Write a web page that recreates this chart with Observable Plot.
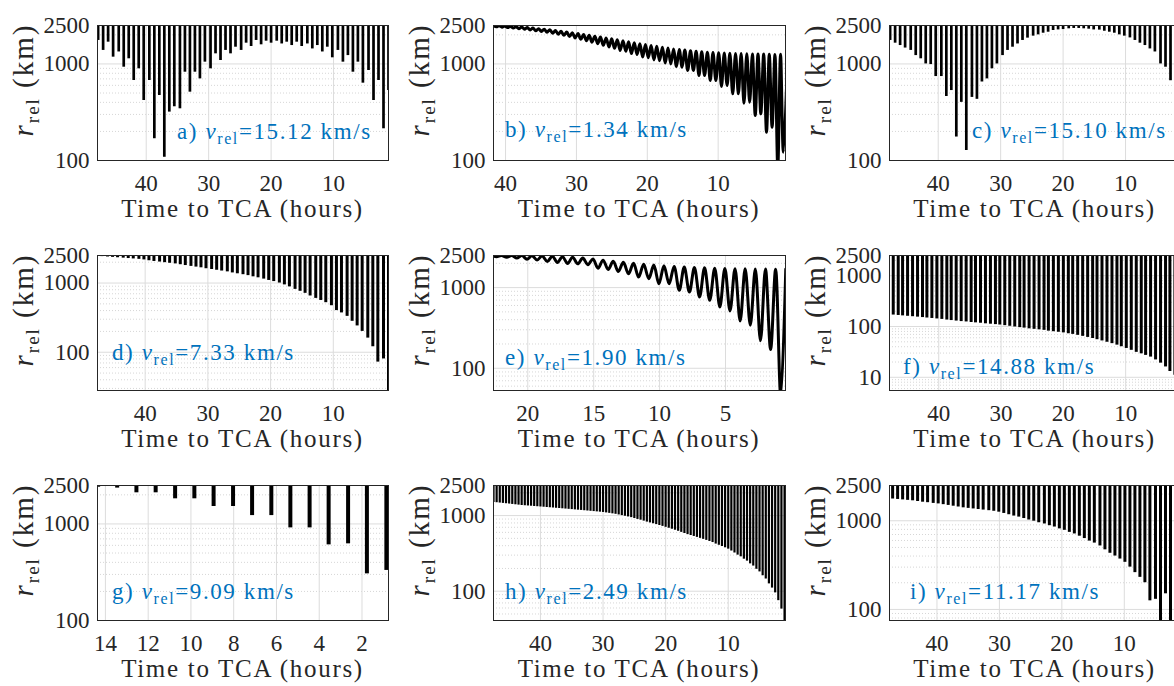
<!DOCTYPE html>
<html><head><meta charset="utf-8">
<script src="https://cdn.jsdelivr.net/npm/d3@7"></script>
<script src="https://cdn.jsdelivr.net/npm/@observablehq/plot@0.6"></script>
<style>
html,body{margin:0;padding:0;background:#fff;overflow:hidden;width:1174px;height:686px;}
#root{position:relative;width:1174px;height:686px;overflow:hidden;}
.panel{position:absolute;}
.panel svg{max-width:none !important;display:block;}
</style></head><body><div id="root"></div>
<script>
// ---------- tick labels ----------
const hourTicks = [40, 30, 20, 10];
const hourTicksE = [20, 15, 10, 5];
const hourTicksG = [14, 12, 10, 8, 6, 4, 2];
const rTicks = [100, 1000, 2500];
const rTicksF = [10, 100, 1000, 2500];

// ---------- a) spikes (time to TCA in hours, minimum r_rel in km) ----------
const timesA = [47.7,46.9,46.1,45.3,44.4,43.6,42.8,42.0,41.2,40.4,39.5,38.7,37.9,37.1,36.3,35.5,34.6,33.8,33.0,32.2,31.4,30.6,29.7,28.9,28.1,27.3,26.5,25.7,24.8,24.0,23.2,22.4,21.6,20.8,20.0,19.1,18.3,17.5,16.7,15.9,15.1,14.2,13.4,12.6,11.8,11.0,10.2,9.3,8.5,7.7,6.9,6.1,5.3,4.4,3.6,2.8,2.0,1.2];
const minA = [1750,1380,1680,1175,1330,925,1130,674,890,418,674,168,471,108,317,360,343,821,510,821,700,1043,890,1272,1085,1380,1272,1490,1380,1640,1515,1750,1577,1720,1640,1720,1610,1680,1550,1680,1515,1610,1430,1550,1330,1490,1157,1380,1043,1220,821,1043,632,855,418,674,213,530];

// ---------- b) oscillation extrema ----------
const troughTB = [0.80,1.59,2.39,3.18,3.98,4.77,5.56,6.36,7.15,7.95,8.74,9.53,10.33,11.12,11.92,12.71,13.50,14.30,15.09,15.89,16.68,17.47,18.27,19.06,19.86,20.65,21.44,22.24,23.03,23.83,24.62,25.41,26.21,27.00,27.80,28.59,29.38,30.18,30.97,31.77,32.56,33.35,34.15,34.94,35.74,36.53,37.32,38.12,38.91,39.71,40.50,41.29];
const troughRB = [122,85,221,196,304,292,401,392,490,490,598,584,674,674,759,759,855,855,925,940,1000,1020,1080,1100,1160,1180,1250,1280,1350,1380,1450,1500,1560,1620,1680,1740,1800,1860,1920,1980,2030,2080,2130,2170,2210,2250,2290,2320,2350,2380,2400,2420];
const peakTB = [0.2,1.20,1.99,2.79,3.58,4.38,5.17,5.96,6.76,7.55,8.35,9.14,9.93,10.73,11.52,12.32,13.11,13.90,14.70,15.49,16.29,17.08,17.87,18.67,19.46,20.26,21.05,21.84,22.64,23.43,24.23,25.02,25.81,26.61,27.40,28.20,28.99,29.78,30.58,31.37,32.17,32.96,33.75,34.55,35.34,36.14,36.93,37.72,38.52,39.31,40.11,40.90,41.69];
const peakRB = [1250,1260,1255,1260,1265,1270,1270,1275,1280,1285,1290,1300,1305,1315,1325,1335,1350,1370,1390,1410,1430,1460,1490,1520,1550,1590,1620,1660,1700,1740,1780,1820,1860,1900,1940,1980,2020,2060,2100,2140,2180,2220,2260,2290,2320,2350,2380,2410,2430,2450,2470,2490,2500];

// ---------- c) spikes ----------
const timesC = timesA;
const minC = [1750,1640,1550,1460,1380,1220,1130,1000,985,740,740,460,530,175,400,127,450,430,650,700,890,1000,1220,1380,1490,1610,1750,1850,1940,2000,2080,2130,2220,2250,2270,2310,2330,2330,2310,2290,2250,2240,2180,2130,2080,2000,1940,1860,1750,1640,1550,1430,1330,1000,925,670,670,360];

// ---------- d) spikes ----------
const timesD = [1.2,2.0,2.9,3.7,4.5,5.4,6.2,7.0,7.8,8.7,9.5,10.3,11.2,12.0,12.8,13.7,14.5,15.3,16.1,17.0,17.8,18.6,19.5,20.3,21.1,22.0,22.8,23.6,24.4,25.3,26.1,26.9,27.8,28.6,29.4,30.3,31.1,31.9,32.7,33.6,34.4,35.2,36.1,36.9,37.7,38.6,39.4,40.2,41.0,41.9,42.7,43.5,44.4,45.2,46.0,46.9];
const minD = [25,80,72,120,160,200,240,280,330,370,400,470,520,560,600,650,710,760,810,880,940,1000,1050,1090,1140,1190,1230,1280,1320,1360,1400,1450,1490,1530,1570,1610,1660,1700,1740,1790,1840,1890,1930,1970,2010,2050,2100,2160,2200,2230,2260,2290,2320,2350,2380,2410];

// ---------- e) oscillation extrema ----------
const troughTE = [0.81,1.58,2.35,3.12,3.89,4.66,5.43,6.20,6.97,7.74,8.51,9.28,10.05,10.82,11.59,12.36,13.13,13.90,14.67,15.44,16.21,16.98,17.75,18.52,19.29,20.06,20.83,21.60,22.37];
const troughRE = [45,171,219,342,386,514,575,695,765,880,925,1117,1117,1290,1350,1485,1585,1680,1740,1920,1970,1990,2050,2100,2200,2250,2330,2380,2420];
const peakTE = [0.43,1.20,1.97,2.74,3.51,4.28,5.05,5.82,6.59,7.36,8.13,8.90,9.67,10.44,11.21,11.98,12.75,13.52,14.29,15.06,15.83,16.60,17.37,18.14,18.91,19.68,20.45,21.22,21.99,22.76];
const peakRE = [1690,1690,1700,1700,1710,1710,1720,1740,1760,1780,1800,1830,1860,1900,1950,2000,2060,2120,2190,2260,2320,2380,2420,2450,2470,2490,2500,2500,2500,2500];

// ---------- f) spikes ----------
const timesF = [1.3,2.1,2.9,3.6,4.4,5.2,6.0,6.8,7.5,8.3,9.1,9.9,10.7,11.4,12.2,13.0,13.8,14.6,15.3,16.1,16.9,17.7,18.5,19.2,20.0,20.8,21.6,22.4,23.1,23.9,24.7,25.5,26.3,27.0,27.8,28.6,29.4,30.2,30.9,31.7,32.5,33.3,34.1,34.8,35.6,36.4,37.2,38.0,38.7,39.5,40.3,41.1,41.9,42.6,43.4,44.2,45.0,45.8,46.5,47.3];
const minF = [10.5,11,13,16,19,22,25,27,29,31,34,37,40,43,46,49,52,55,58,61,64,67,70,72,75,77,79,81,84,86,88,90,93,95,98,101,104,107,109,111,113,116,118,120,123,125,128,131,134,138,141,144,147,150,153,156,159,162,165,168];

// ---------- g) spikes ----------
const timesG = [14.34,13.45,12.55,11.65,10.74,9.84,8.94,8.03,7.14,6.24,5.35,4.45,3.56,2.65,1.77,0.86];
const minG = [2400,2350,2100,2100,1820,1820,1515,1515,1220,1220,910,910,607,622,304,330];

// ---------- h) spikes ----------
const timesH = [1.0,1.5,2.0,2.5,3.0,3.5,4.0,4.5,5.0,5.5,6.0,6.5,7.0,7.5,8.0,8.5,9.0,9.5,10.0,10.5,11.0,11.5,12.0,12.5,13.0,13.5,14.0,14.5,15.0,15.5,16.0,16.5,17.0,17.5,18.0,18.5,19.0,19.5,20.0,20.5,21.0,21.5,22.0,22.5,23.0,23.5,24.0,24.5,25.0,25.5,26.0,26.5,27.0,27.5,28.0,28.5,29.0,29.5,30.0,30.5,31.0,31.5,32.0,32.5,33.0,33.5,34.0,34.5,35.0,35.5,36.0,36.5,37.0,37.5,38.0,38.5,39.0,39.5,40.0,40.5,41.0,41.5,42.0,42.5,43.0,43.5,44.0,44.5,45.0,45.5,46.0,46.5,47.0,47.5];
const minH = [40,58,75,95,110,125,145,160,180,195,215,230,250,265,285,300,320,340,360,375,390,405,420,440,455,470,485,500,515,530,545,560,580,600,620,640,660,680,700,720,740,760,780,800,820,845,870,890,915,940,960,980,1000,1020,1040,1055,1070,1085,1100,1110,1120,1130,1140,1150,1160,1170,1180,1190,1200,1210,1220,1230,1240,1250,1260,1270,1280,1290,1300,1310,1320,1330,1340,1350,1360,1375,1390,1405,1420,1435,1450,1465,1480,1495];

// ---------- i) spikes ----------
const timesI = [1.0,1.8,2.6,3.4,4.2,5.0,5.9,6.7,7.5,8.3,9.1,9.9,10.7,11.5,12.3,13.1,13.9,14.8,15.6,16.4,17.2,18.0,18.8,19.6,20.4,21.2,22.0,22.8,23.7,24.5,25.3,26.1,26.9,27.7,28.5,29.3,30.1,30.9,31.7,32.6,33.4,34.2,35.0,35.8,36.6,37.4,38.2,39.0,39.8,40.6,41.5,42.3,43.1,43.9,44.7,45.5,46.3,47.1];
const minI = [60,150,60,150,70,130,125,200,230,260,300,340,370,400,430,470,520,560,590,630,670,710,740,780,810,850,880,920,950,990,1020,1060,1100,1130,1170,1210,1250,1280,1300,1320,1340,1360,1380,1400,1430,1460,1490,1520,1550,1570,1600,1620,1650,1680,1700,1720,1740,1760];

// ---------- panel labels ----------
const panelLetters = ["a","b","c","d","e","f","g","h","i"];
const vrel = ["15.12","1.34","15.10","7.33","1.90","14.88","9.09","2.49","11.17"];

// ---------- layout ----------
const H = 135, ML = 110, MR = 10, MT = 6, MB = 74;
const colLeft = [97, 493, 889], colWidth = [291, 292, 291];
const rowTop = [25, 255, 485];

const panels = [
  {kind:"spike", x:[47.8,1.2], y:[100,2500], xt:hourTicks, yt:rTicks, t:timesA, r:minA, sw:2.7, ann:[177,132]},
  {kind:"wave",  x:[41.7,0.5], y:[100,2500], xt:hourTicks, yt:rTicks, tt:troughTB, tr:troughRB, pt:peakTB, pr:peakRB, sw:3, ann:[505,130]},
  {kind:"spike", x:[47.8,1.2], y:[100,2500], xt:hourTicks, yt:rTicks, t:timesC, r:minC, sw:2.7, ann:[972,131]},
  {kind:"spike", x:[47.6,1.2], y:[28,2500], xt:hourTicks, yt:rTicks, t:timesD, r:minD, sw:3, ann:[112,353]},
  {kind:"wave",  x:[22.6,0.45], y:[53,2500], xt:hourTicksE, yt:rTicks, tt:troughTE, tr:troughRE, pt:peakTE, pr:peakRE, sw:3, ann:[505,358]},
  {kind:"spike", x:[47.9,1.2], y:[5.5,2500], xt:hourTicks, yt:rTicksF, t:timesF, r:minF, sw:3, ann:[903,367]},
  {kind:"spike", x:[14.37,0.76], y:[100,2500], xt:hourTicksG, yt:rTicks, t:timesG, r:minG, sw:4, ann:[112,592]},
  {kind:"spike", x:[47.5,0.85], y:[41,2500], xt:hourTicks, yt:rTicks, t:timesH, r:minH, sw:2.2, ann:[505,592]},
  {kind:"spike", x:[47.6,1.0], y:[75,2500], xt:hourTicks, yt:rTicks, t:timesI, r:minI, sw:3, ann:[910,592]}
];

function minorTicks([lo, hi]) {
  const out = [];
  for (let e = Math.floor(Math.log10(lo)); e <= Math.ceil(Math.log10(hi)); e++) {
    for (let m = 2; m <= 9; m++) {
      const v = +(m * Math.pow(10, e)).toPrecision(6);
      if (v > lo && v < hi) out.push(v);
    }
  }
  return out;
}

const root = document.getElementById("root");
const FONT = "'Liberation Serif','Times New Roman',serif";

panels.forEach((p, idx) => {
  const col = idx % 3, row = Math.floor(idx / 3);
  const left = colLeft[col], top = rowTop[row], W = colWidth[col];
  const marks = [];
  marks.push(Plot.ruleY(minorTicks(p.y), {y: d => d, stroke: "#cccccc", strokeWidth: 0.8, strokeDasharray: "1,2"}));
  marks.push(Plot.ruleY(p.yt.filter(v => v > p.y[0] && v < p.y[1]), {y: d => d, stroke: "#dcdcdc", strokeWidth: 1}));
  marks.push(Plot.ruleX(p.xt, {x: d => d, stroke: "#dcdcdc", strokeWidth: 1}));
  if (p.kind === "spike") {
    const n = Math.min(p.t.length, p.r.length);
    const data = d3.range(n).map(i => ({t: p.t[i], r: p.r[i]}));
    marks.push(Plot.ruleX(data, {x: "t", y1: "r", y2: () => p.y[1], stroke: "#000", strokeWidth: p.sw, clip: true}));
  } else {
    const a = d3.range(Math.min(p.tt.length, p.tr.length)).map(i => ({t: p.tt[i], r: p.tr[i]}));
    const b = d3.range(Math.min(p.pt.length, p.pr.length)).map(i => ({t: p.pt[i], r: p.pr[i]}));
    const data = a.concat(b).sort((u, v) => u.t - v.t);
    marks.push(Plot.line(data, {x: "t", y: "r", curve: "catmull-rom", stroke: "#000", strokeWidth: p.sw, clip: true}));
  }
  marks.push(Plot.frame({stroke: "#262626", strokeWidth: 1}));
  marks.push(Plot.axisX(p.xt, {anchor: "bottom", tickSize: 0, tickPadding: 14, tickFormat: d => String(d), label: null, fill: "#262626"}));
  marks.push(Plot.text(p.yt, {y: d => d, text: d => String(d), frameAnchor: "left", textAnchor: "end", lineAnchor: "middle", dx: -8, fill: "#262626"}));

  const svg = Plot.plot({
    width: ML + W + MR, height: MT + H + MB,
    marginLeft: ML, marginRight: MR, marginTop: MT, marginBottom: MB,
    x: {domain: p.x, axis: null},
    y: {type: "log", domain: p.y, axis: null},
    style: {fontFamily: FONT, fontSize: "23px", color: "#262626", background: "transparent", overflow: "visible", maxWidth: "none"},
    marks
  });
  const wrap = document.createElement("div");
  wrap.className = "panel";
  wrap.style.left = (left - ML) + "px";
  wrap.style.top = (top - MT) + "px";
  wrap.style.width = (ML + W + MR) + "px";
  wrap.style.height = (MT + H + MB) + "px";
  wrap.appendChild(svg);
  root.appendChild(wrap);

  const s = d3.select(svg);
  // x label
  s.append("text")
    .attr("x", ML + W / 2).attr("y", MT + H + 57)
    .attr("text-anchor", "middle").attr("fill", "#262626")
    .attr("font-family", FONT).attr("font-size", 25).attr("letter-spacing", 1.7)
    .text("Time to TCA (hours)");
  // y label
  const yl = s.append("text")
    .attr("transform", `translate(${ML - 64},${MT + 55}) rotate(-90)`)
    .attr("text-anchor", "middle").attr("fill", "#262626")
    .attr("font-family", FONT).attr("font-size", 29).attr("letter-spacing", 2);
  yl.append("tspan").attr("font-style", "italic").text("r");
  yl.append("tspan").attr("font-size", 19).attr("dy", 6).text("rel");
  yl.append("tspan").attr("dy", -6).text(" (km)");
  // annotation
  const an = s.append("text")
    .attr("x", p.ann[0] - (left - ML)).attr("y", p.ann[1] - (top - MT) + 7)
    .attr("text-anchor", "start")
    .attr("fill", "#0072BD").attr("font-family", FONT).attr("font-size", 23).attr("letter-spacing", 1.6);
  an.append("tspan").text(panelLetters[idx] + ") ");
  an.append("tspan").attr("font-style", "italic").text("v");
  an.append("tspan").attr("font-size", 16).attr("dy", 5).text("rel");
  an.append("tspan").attr("dy", -5).text("=" + vrel[idx] + " km/s");
});
</script>
</body></html>
